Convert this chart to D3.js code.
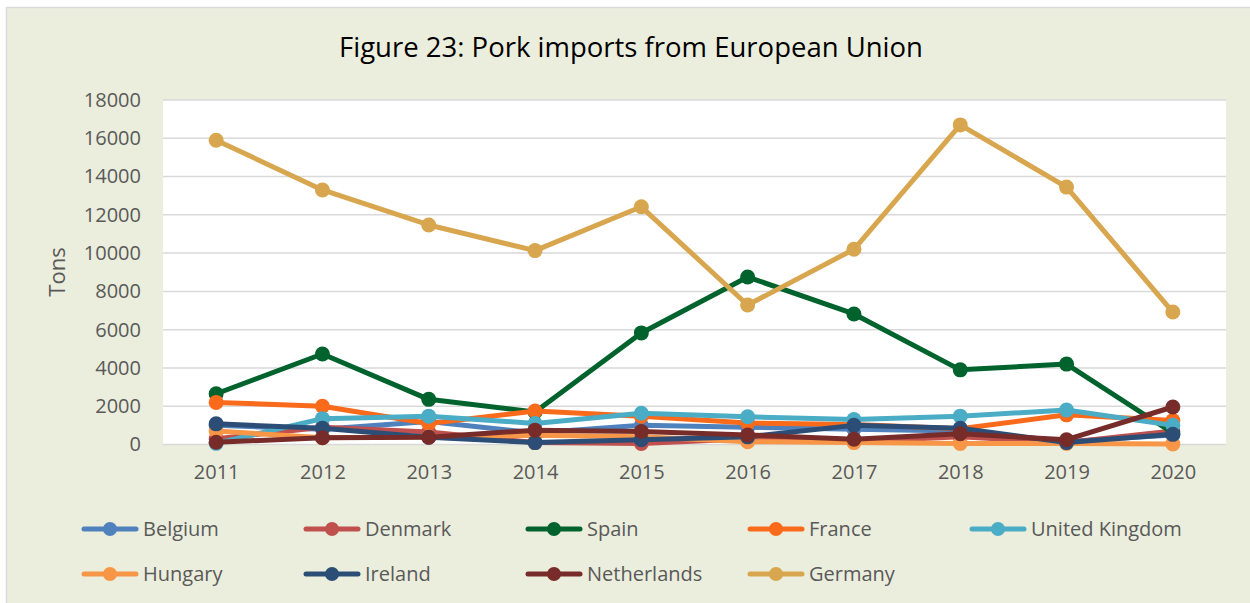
<!DOCTYPE html>
<html><head><meta charset="utf-8">
<script src="https://cdn.jsdelivr.net/npm/d3@7"></script>
<style>
html,body{margin:0;padding:0;background:#fff;}
svg{display:block;font-family:"Open Sans",sans-serif;}
</style></head>
<body>
<svg id="chart" width="1250" height="603"></svg>
<script>
const years = [2011,2012,2013,2014,2015,2016,2017,2018,2019,2020];
const yTicks = [0,2000,4000,6000,8000,10000,12000,14000,16000,18000];
const seriesNames = ["Belgium","Denmark","Spain","France","United Kingdom","Hungary","Ireland","Netherlands","Germany"];
const belgium     = [1000, 800, 1200, 600, 1000, 900, 800, 700, 150, 500];
const denmark     = [ 300, 900,  650, 100,   50, 300, 150, 400, 100, 700];
const spain       = [2650,4730, 2360,1700, 5830,8750,6820,3900,4200, 600];
const france      = [2200,2000, 1100,1750, 1480,1120,1050, 820,1550,1250];
const uk          = [  60,1350, 1480,1100, 1630,1450,1300,1480,1800,1000];
const hungary     = [ 700, 350,  400, 480,  400, 150, 100,  50,  50,  30];
const ireland     = [1080, 850,  380, 100,  250, 400,1000, 850, 100, 530];
const netherlands = [ 120, 350,  380, 750,  680, 500, 280, 560, 250,1960];
const germany     = [15900,13300,11470,10130,12420,7290,10200,16700,13450,6920];
const seriesValues = [belgium,denmark,spain,france,uk,hungary,ireland,netherlands,germany];
const colors = ["#4F81BD","#C0504D","#00622C","#F96A1B","#4BACC6","#F79646","#2C4D75","#772C2A","#D8A64E"];

const svg = d3.select("#chart");
// outer chart area
svg.append("rect").attr("x",6.5).attr("y",7.5).attr("width",1260).attr("height",620)
  .attr("fill","#EBEEDD").attr("stroke","#D9D9D9").attr("stroke-width",1.5);

const plot = {left:163, right:1226, top:100, bottom:444.5};
svg.append("rect").attr("x",plot.left).attr("y",plot.top)
  .attr("width",plot.right-plot.left).attr("height",plot.bottom-plot.top).attr("fill","#fff");

const x = d3.scalePoint().domain(years).range([plot.left,plot.right]).padding(0.5);
const y = d3.scaleLinear().domain([0,18000]).range([plot.bottom,plot.top]);

// gridlines
svg.append("g").selectAll("line").data(yTicks).join("line")
  .attr("x1",plot.left).attr("x2",plot.right)
  .attr("y1",d=>y(d)).attr("y2",d=>y(d))
  .attr("stroke","#D9D9D9").attr("stroke-width",1.5);

// y axis
const yAxis = svg.append("g").attr("transform",`translate(${plot.left},0)`)
  .call(d3.axisLeft(y).tickValues(yTicks).tickFormat(d3.format("d")).tickSize(0).tickPadding(22));
yAxis.select(".domain").remove();
yAxis.selectAll("text").attr("fill","#595959").attr("font-size",20).attr("font-family","Open Sans");

// x axis
const xAxis = svg.append("g").attr("transform",`translate(0,${plot.bottom})`)
  .call(d3.axisBottom(x).tickFormat(d3.format("d")).tickSize(0).tickPadding(20));
xAxis.select(".domain").remove();
xAxis.selectAll("text").attr("fill","#595959").attr("font-size",20).attr("font-family","Open Sans");

// axis title
svg.append("text").attr("transform","translate(65,272) rotate(-90)")
  .attr("text-anchor","middle").attr("fill","#595959").attr("font-size",22).text("Tons");

// title
svg.append("text").attr("x",631).attr("y",57).attr("text-anchor","middle")
  .attr("fill","#000").attr("font-size",27.5).text("Figure 23: Pork imports from European Union");

// series
const line = d3.line().x((d,i)=>x(years[i])).y(d=>y(d));
seriesNames.forEach((name,si)=>{
  const g = svg.append("g");
  g.append("path").datum(seriesValues[si]).attr("d",line)
    .attr("fill","none").attr("stroke",colors[si]).attr("stroke-width",5)
    .attr("stroke-linejoin","round").attr("stroke-linecap","round");
  g.selectAll("circle").data(seriesValues[si]).join("circle")
    .attr("cx",(d,i)=>x(years[i])).attr("cy",d=>y(d)).attr("r",7.5)
    .attr("fill",colors[si]);
});

// legend
const legStart = 82, legStep = 222;
const legRows = [529,574];
const perRow = 5;
seriesNames.forEach((name,si)=>{
  const c = si % perRow, r = Math.floor(si / perRow);
  const lx = legStart + c*legStep, ly = legRows[r];
  const g = svg.append("g");
  g.append("line").attr("x1",lx+2).attr("x2",lx+54).attr("y1",ly).attr("y2",ly)
    .attr("stroke",colors[si]).attr("stroke-width",5).attr("stroke-linecap","round");
  g.append("circle").attr("cx",lx+28).attr("cy",ly).attr("r",7).attr("fill",colors[si]);
  g.append("text").attr("x",lx+61).attr("y",ly).attr("dy","0.35em")
    .attr("fill","#595959").attr("font-size",20).text(name);
});
</script>
</body></html>
